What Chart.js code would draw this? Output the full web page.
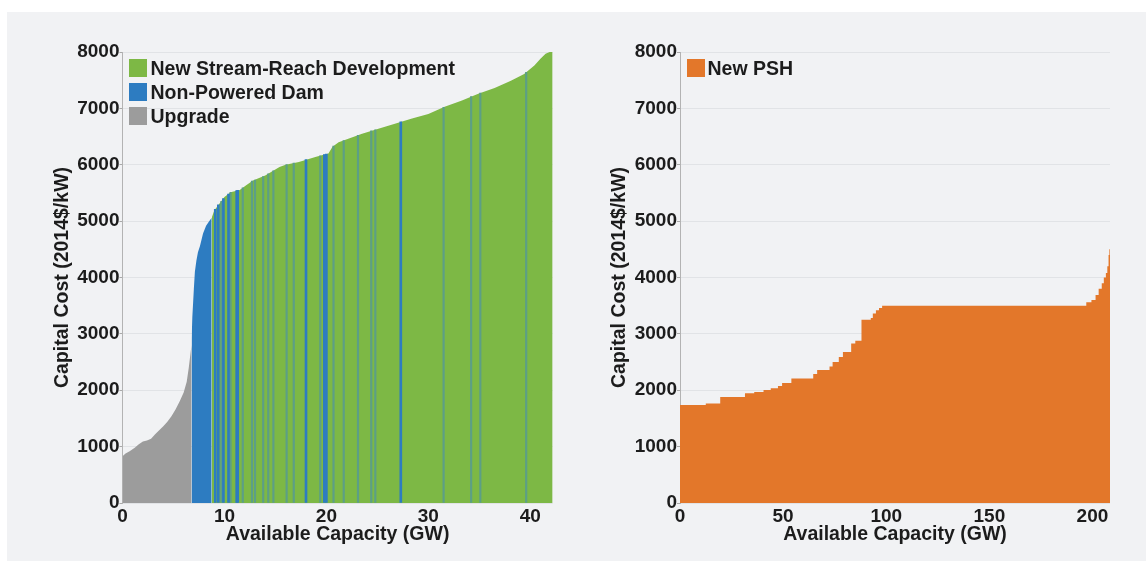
<!DOCTYPE html>
<html>
<head>
<meta charset="utf-8">
<script src="https://cdn.jsdelivr.net/npm/chart.js@4.4.1/dist/chart.umd.min.js"></script>
<style>
    body { margin: 0; width: 1146px; height: 561px; overflow: hidden; position: relative; background: #fff;
           font-family: 'Liberation Sans', Arial, sans-serif; }
    #bg { position: absolute; left: 7px; top: 12px; right: 0; bottom: 0; background: #f1f2f4; }
    canvas { position: absolute; top: 0; }
    .item { position: absolute; white-space: nowrap; font-weight: bold; font-size: 19.5px; line-height: 24px; color: #1c1c1c; }
    .box { position: absolute; left: 0; top: 3px; width: 18px; height: 18px; }
</style>
</head>
<body>
<div id="bg"></div>
<canvas id="hydroChart" width="573" height="561" style="left:0"></canvas>
<canvas id="pshChart" width="573" height="561" style="left:573px"></canvas>
<div id="legends"></div>

<script>
// Curva de costos: Upgrade / Non-Powered Dam / New Stream-Reach (GW, 2014$/kW)
const upgradeX = [0, 0.3, 0.7, 1.2, 1.6, 2.0, 2.4, 2.8, 3.2, 3.6, 4.0, 4.4, 4.8, 5.2, 5.6, 6.0, 6.3, 6.5, 6.7, 6.78];
const upgradeY = [830, 880, 920, 980, 1040, 1090, 1110, 1140, 1220, 1290, 1360, 1440, 1540, 1660, 1800, 1960, 2150, 2400, 2700, 2800];

const npdX = [6.78, 6.85, 7.0, 7.1, 7.25, 7.4, 7.6, 7.9, 8.2, 8.5, 8.75];
const npdY = [2900, 3300, 3800, 4100, 4300, 4450, 4560, 4780, 4920, 5000, 5060];

const nsdX = [8.75, 9.0, 9.5, 10.0, 10.6, 11.5, 12.1, 12.8, 14.0, 15.4, 16.0, 17.3, 19.0, 20.2, 20.6, 21.2, 23.5, 25.1,
              26.8, 28.4, 30.0, 31.6, 33.3, 34.9, 36.5, 38.1, 39.4, 40.4, 41.0, 41.5, 41.9, 42.2];
const nsdY = [5060, 5190, 5310, 5430, 5510, 5550, 5630, 5720, 5810, 5960, 6000, 6050, 6140, 6200, 6320, 6400, 6550, 6640,
              6730, 6820, 6900, 7030, 7140, 7260, 7360, 7490, 7610, 7760, 7880, 7970, 8000, 8000];

// franjas de presas (NPD) dentro de la zona verde
const npdStripeX = [9.1, 9.4, 9.9, 10.4, 11.2, 11.3, 18.0, 19.8, 20.0, 27.3];
const npdStripeY = [5210, 5290, 5400, 5480, 5540, 5545, 6090, 6180, 6190, 6760];
const mixStripeX = [9.7, 10.6, 11.8, 12.7, 13.0, 13.8, 14.3, 14.8, 16.1, 16.8, 19.4, 20.7, 21.7, 23.1, 24.4, 24.8, 31.5, 34.2, 35.1, 39.6];
const mixStripeY = [5350, 5510, 5590, 5710, 5730, 5790, 5840, 5890, 6005, 6030, 6160, 6330, 6430, 6520, 6600, 6620, 7020, 7210, 7270, 7640];

// New PSH (escalones)
const pshX = [0, 12.5, 19.5, 31.5, 36, 40.5, 44, 47.5, 49.5, 54, 64.6, 66.5, 72.5, 74, 77, 79, 83, 85, 88, 92.5, 93.5, 95,
              96.5, 98, 197, 199.5, 201.5, 203, 204.5, 205.5, 206.5, 207.2, 207.8, 208.2, 208.5];
const pshY = [1740, 1765, 1880, 1945, 1970, 2005, 2035, 2075, 2130, 2210, 2290, 2360, 2420, 2500, 2590, 2680, 2830, 2880, 3250,
              3280, 3360, 3420, 3460, 3500, 3560, 3600, 3690, 3800, 3900, 4000, 4080, 4200, 4400, 4500, 4500];

const yTicks = [0, 1000, 2000, 3000, 4000, 5000, 6000, 7000, 8000];

const GREEN = '#7db845';
const BLUE = '#2d7cc1';
const GRAY = '#9c9c9c';
const MIX = '#5c9f86';
const ORANGE = '#e3772a';
const FONT = { family: "'Liberation Sans', Arial, sans-serif", weight: 'bold', size: 19 };
const TEXT = '#1c1c1c';

function pts(xs, ys) {
    return xs.map((x, i) => ({ x: x, y: ys[i] }));
}

function area(label, xs, ys, color, stepped) {
    return {
        type: 'line', label: label, data: pts(xs, ys), backgroundColor: color,
        borderColor: 'rgba(0,0,0,0)', borderWidth: 1, fill: 'origin', pointRadius: 0,
        tension: 0, stepped: stepped, order: 2
    };
}

function stripes(label, xs, ys, color, w) {
    return {
        type: 'bar', label: label, data: pts(xs, ys), backgroundColor: color,
        barThickness: w, grouped: false, order: 1, inLegend: false
    };
}

function scales(xMax, xStep, yWidth) {
    return {
        x: {
            type: 'linear', min: 0, max: xMax, offset: false,
            ticks: { stepSize: xStep, includeBounds: false, color: TEXT, font: FONT, padding: 2 },
            grid: { display: false, drawTicks: false },
            border: { display: false },
            title: { display: true, text: 'Available Capacity (GW)', color: TEXT,
                     font: { ...FONT, size: 19.5 }, padding: { top: 0, bottom: 15 } },
            afterFit: function (s) { s.height = 58; }
        },
        y: {
            min: 0, max: 8000,
            afterBuildTicks: function (s) { s.ticks = yTicks.map(v => ({ value: v })); },
            ticks: { color: TEXT, font: FONT, padding: 0, callback: v => String(v) },
            grid: { color: '#e1e3e6', tickColor: '#a8a8a8', tickLength: 3 },
            border: { display: true, color: '#b3b3b3' },
            title: { display: true, text: 'Capital Cost (2014$/kW)', color: TEXT,
                     font: { ...FONT, size: 19.5 }, padding: { top: 10.5, bottom: 0 } },
            afterFit: function (s) { s.width = yWidth; }
        }
    };
}

function baseOptions(pad, xMax, xStep) {
    return {
        responsive: false, animation: false, events: [],
        layout: { padding: pad },
        plugins: { legend: { display: false }, tooltip: { enabled: false } },
        scales: scales(xMax, xStep, 82.5)
    };
}

// Legend HTML, generado desde los datasets
function htmlLegend(chart, boxLeft, textLeft, firstTop, offsetX) {
    const holder = document.getElementById('legends');
    let row = 0;
    chart.data.datasets.forEach(ds => {
        if (ds.inLegend === false) return;
        const item = document.createElement('div');
        item.className = 'item';
        item.style.left = (offsetX + boxLeft) + 'px';
        item.style.top = (firstTop + row * 24) + 'px';
        item.innerHTML = '<span class="box" style="background:' + ds.backgroundColor + '"></span>' +
            '<span style="position:absolute;left:' + (textLeft - boxLeft) + 'px;top:0">' + ds.label + '</span>';
        holder.appendChild(item);
        row++;
    });
}

document.addEventListener('DOMContentLoaded', function () {
    const hydro = new Chart(document.getElementById('hydroChart'), {
        type: 'line',
        data: {
            datasets: [
                area('New Stream-Reach Development', nsdX, nsdY, GREEN, false),
                area('Non-Powered Dam', npdX, npdY, BLUE, false),
                area('Upgrade', upgradeX, upgradeY, GRAY, false),
                stripes('npd', npdStripeX, npdStripeY, BLUE, 2),
                stripes('mix', mixStripeX, mixStripeY, MIX, 1.5)
            ]
        },
        options: baseOptions({ left: 40, right: 20.3, top: 52, bottom: 0 }, 42.2, 10)
    });

    const psh = new Chart(document.getElementById('pshChart'), {
        type: 'line',
        data: {
            datasets: [area('New PSH', pshX, pshY, ORANGE, true)]
        },
        options: baseOptions({ left: 24.5, right: 36, top: 52, bottom: 0 }, 208.5, 50)
    });

    htmlLegend(hydro, 129, 150.5, 56, 0);
    htmlLegend(psh, 114, 134.5, 56, 573);
});
</script>
</body>
</html>
